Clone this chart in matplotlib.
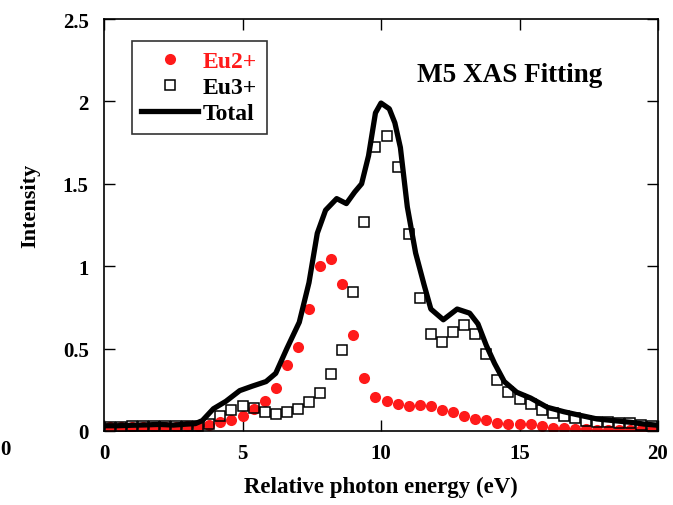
import matplotlib
matplotlib.use("Agg")
import matplotlib.pyplot as plt
import numpy as np

plt.rcParams['font.family'] = ['Liberation Serif', 'DejaVu Serif']
plt.rcParams['font.weight'] = 'bold'

# --- data ---
x_pts = [0.2, 0.6, 1.0, 1.4, 1.8, 2.2, 2.6, 3.0, 3.4, 3.8,
         4.2, 4.6, 5.0, 5.4, 5.8, 6.2, 6.6, 7.0, 7.4, 7.8,
         8.2, 8.6, 9.0, 9.4, 9.8, 10.2, 10.6, 11.0, 11.4, 11.8,
         12.2, 12.6, 13.0, 13.4, 13.8, 14.2, 14.6, 15.0, 15.4, 15.8,
         16.2, 16.6, 17.0, 17.4, 17.8, 18.2, 18.6, 19.0, 19.4, 19.8]

eu2 = [0.022, 0.022, 0.025, 0.027, 0.027, 0.027, 0.027, 0.028, 0.030, 0.038,
       0.053, 0.069, 0.093, 0.135, 0.180, 0.260, 0.400, 0.510, 0.740, 1.000,
       1.044, 0.890, 0.585, 0.320, 0.205, 0.180, 0.164, 0.150, 0.157, 0.150,
       0.130, 0.113, 0.089, 0.073, 0.065, 0.051, 0.045, 0.042, 0.042, 0.032,
       0.020, 0.019, 0.012, 0.012, 0.008, 0.006, 0.006, 0.006, 0.005, 0.005]

eu3 = [0.025, 0.025, 0.028, 0.028, 0.028, 0.028, 0.028, 0.030, 0.030, 0.045,
       0.089, 0.130, 0.150, 0.140, 0.113, 0.103, 0.117, 0.133, 0.174, 0.230,
       0.346, 0.490, 0.846, 1.270, 1.725, 1.790, 1.600, 1.195, 0.810, 0.590,
       0.540, 0.600, 0.645, 0.590, 0.470, 0.310, 0.238, 0.194, 0.164, 0.130,
       0.107, 0.093, 0.077, 0.063, 0.057, 0.052, 0.049, 0.049, 0.036, 0.032]

total_x = [0.0, 0.5, 1.0, 1.5, 2.0, 2.5, 3.0, 3.3, 3.55, 3.95,
           4.4, 4.9, 5.35, 5.85, 6.2, 6.6, 7.05, 7.4, 7.7, 8.0,
           8.4, 8.75, 9.05, 9.3, 9.55, 9.8, 10.0, 10.3, 10.5, 10.7,
           10.95, 11.25, 11.55, 11.8, 12.25, 12.75, 13.2, 13.5, 13.8, 14.1,
           14.45, 14.9, 15.4, 16.0, 16.6, 17.05, 17.8, 18.4, 19.0, 19.5, 20.0]
total_y = [0.032, 0.032, 0.035, 0.037, 0.040, 0.036, 0.042, 0.045, 0.063, 0.135,
           0.180, 0.245, 0.272, 0.300, 0.350, 0.500, 0.660, 0.900, 1.200, 1.340,
           1.410, 1.380, 1.450, 1.500, 1.670, 1.930, 1.990, 1.955, 1.870, 1.720,
           1.360, 1.080, 0.890, 0.740, 0.675, 0.740, 0.715, 0.650, 0.520, 0.410,
           0.300, 0.235, 0.200, 0.144, 0.117, 0.100, 0.073, 0.063, 0.053, 0.042, 0.035]

x_ticks = [0, 5, 10, 15, 20]
y_ticks = [0, 0.5, 1, 1.5, 2, 2.5]
y_tick_labels = ['0', '0.5', '1', '1.5', '2', '2.5']

W, H = 673, 506
fig = plt.figure(figsize=(W / 100, H / 100), dpi=100)
ax = fig.add_axes([104 / W, 1 - 432 / H, 554 / W, 412 / H])

ax.plot(x_pts, eu2, 'o', color='#ff1a1a', markersize=8, markeredgewidth=0,
        label='Eu2+', zorder=2)
ax.plot(x_pts, eu3, 's', markerfacecolor='none', markeredgecolor='black',
        markersize=6.5, markeredgewidth=1.1, label='Eu3+', zorder=3)
ax.plot(total_x, total_y, '-', color='black', linewidth=3.8, label='Total',
        zorder=4, solid_joinstyle='round')

ax.set_xlim(0, 20)
ax.set_ylim(0, 2.5)
ax.set_xticks(x_ticks)
ax.set_xticklabels([str(t) for t in x_ticks])
ax.set_yticks(y_ticks)
ax.set_yticklabels(y_tick_labels)
ax.tick_params(direction='in', length=8, width=1, top=True, right=True,
               labelsize=15, pad=9)
ax.tick_params(axis='y', pad=11)
for s in ax.spines.values():
    s.set_linewidth(1.2)

leg = ax.legend(loc='upper left', bbox_to_anchor=(28 / 554, (432 - 42) / 412),
                frameon=True, fancybox=False, edgecolor='black',
                fontsize=17, handlelength=2.4, handletextpad=0.2,
                borderpad=0.4, labelspacing=0.2, borderaxespad=0)
leg.get_frame().set_linewidth(1.2)
leg.get_texts()[0].set_color('#ff1a1a')

fig.text(510 / W, 1 - 75 / H, 'M5 XAS Fitting', fontsize=19.5,
         fontweight='bold', ha='center', va='center')
fig.text(381 / W, 1 - 487 / H, 'Relative photon energy (eV)', fontsize=16.5,
         fontweight='bold', ha='center', va='center')
fig.text(30 / W, 1 - 206 / H, 'Intensity', fontsize=16, fontweight='bold',
         ha='center', va='center', rotation=90)
fig.text(0.5 / W, 1 - 450 / H, '0', fontsize=15, fontweight='bold',
         ha='left', va='center')

fig.savefig('out.png', dpi=100)
